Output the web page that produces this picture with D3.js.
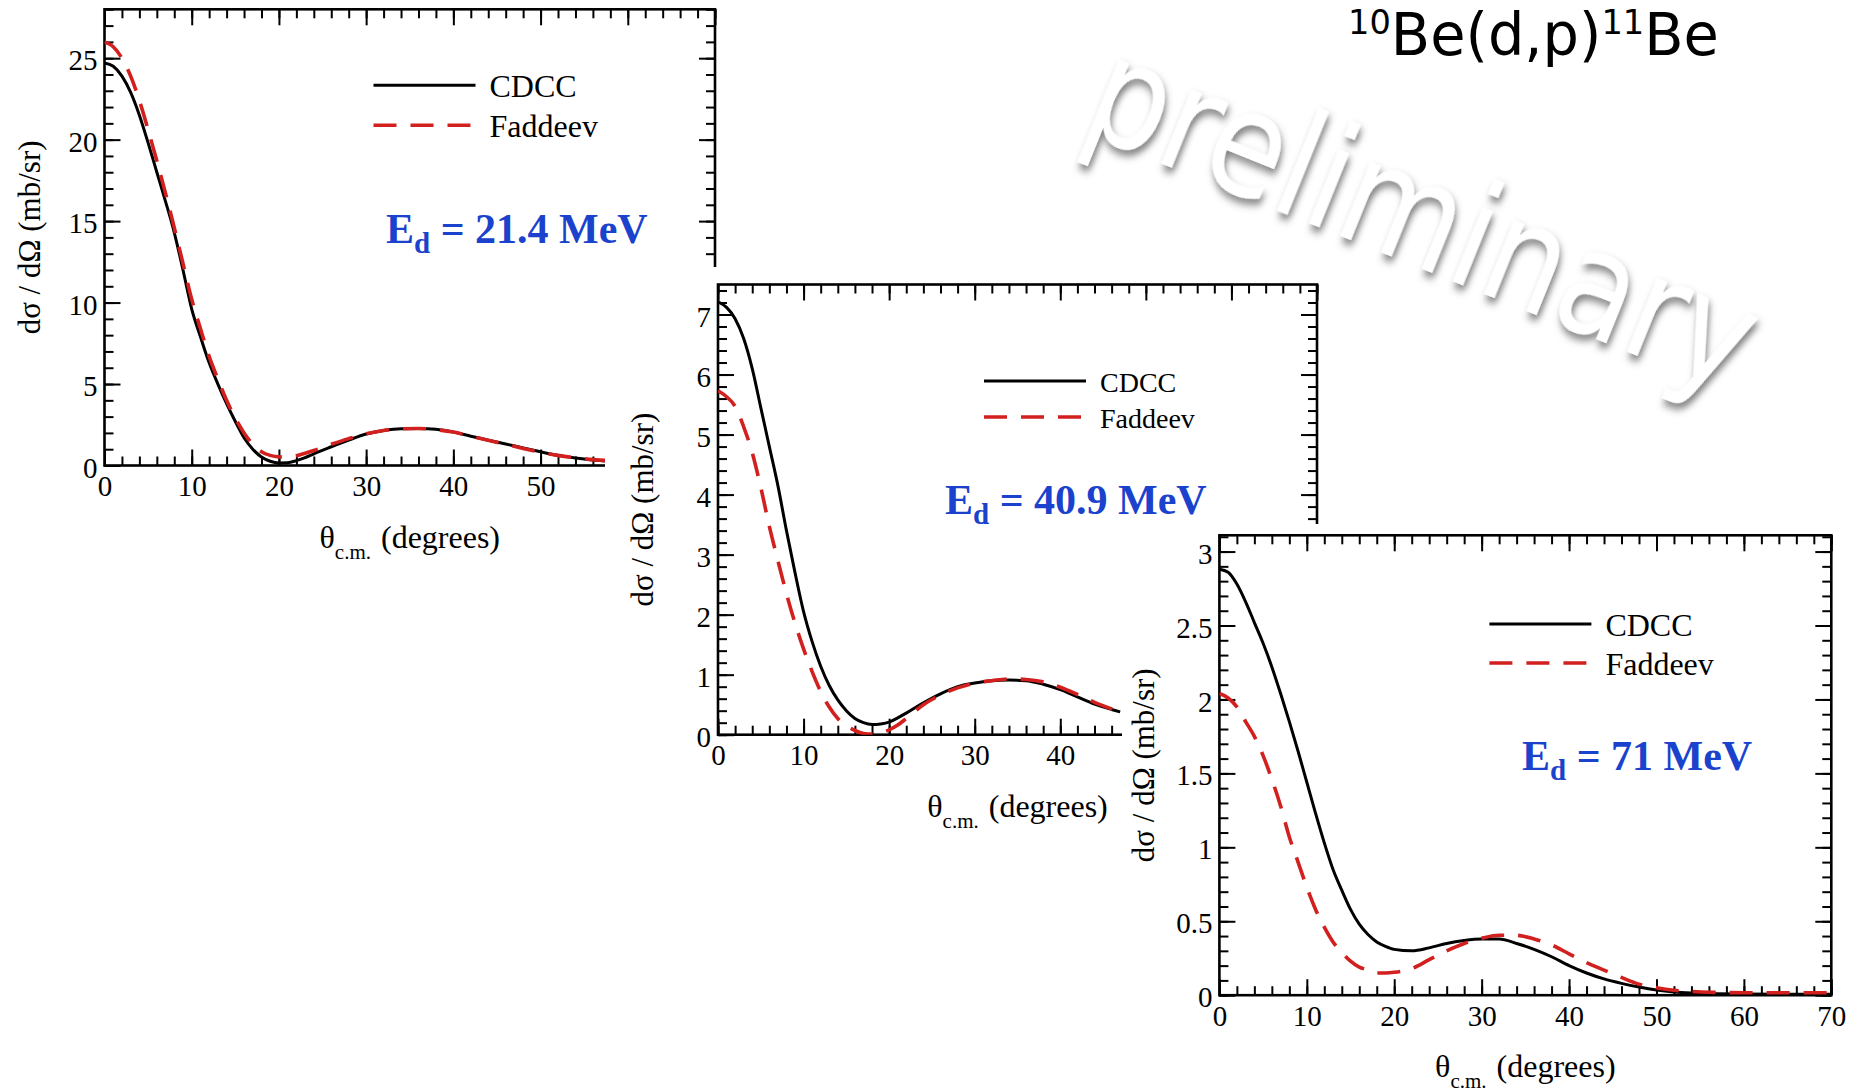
<!DOCTYPE html>
<html>
<head>
<meta charset="utf-8" />
<title>10Be(d,p)11Be</title>
<script src="https://cdn.jsdelivr.net/npm/d3@7"></script>
<style>
  body { margin: 0; background: #fff; }
  svg { display: block; }
  text { white-space: pre; }
</style>
</head>
<body>
<script>
// ---- data ----
// panel 1 : Ed = 21.4 MeV
var p1Angle = [0,1,2,3,4,5,6,7,8,9,10,11,12,13,14,15,16,17,18,19,20,21,22,23,24,26,28,30,32,34,36,38,40,42,44,46,48,50,52,54,56,58];
var p1Cdcc  = [24.7,24.5,23.9,22.9,21.5,19.8,18.0,16.2,14.3,12.0,9.6,7.9,6.3,5.0,3.8,2.7,1.7,1.0,0.52,0.26,0.16,0.17,0.3,0.48,0.72,1.15,1.56,1.93,2.15,2.26,2.27,2.22,2.05,1.8,1.55,1.32,1.08,0.84,0.62,0.46,0.34,0.26];
var p1Fadd  = [26.0,25.7,25.0,23.9,22.4,20.6,18.7,16.7,14.6,12.4,10.2,8.4,6.7,5.3,4.0,2.9,2.0,1.3,0.85,0.62,0.53,0.52,0.6,0.75,0.92,1.3,1.65,1.95,2.15,2.25,2.27,2.2,2.05,1.8,1.55,1.3,1.05,0.82,0.62,0.47,0.36,0.3];
var p1YTicks = [0,5,10,15,20,25];

// panel 2 : Ed = 40.9 MeV
var p2Angle = [0,1,2,3,4,5,6,7,8,9,10,11,12,13,14,15,16,17,18,19,20,21,22,24,26,28,30,32,34,36,38,40,42,44,46,47];
var p2Cdcc  = [7.21,7.12,6.93,6.6,6.1,5.45,4.8,4.15,3.4,2.7,2.05,1.55,1.14,0.82,0.58,0.4,0.27,0.2,0.17,0.18,0.21,0.28,0.36,0.53,0.68,0.8,0.86,0.9,0.91,0.9,0.84,0.75,0.63,0.51,0.42,0.38];
var p2Fadd  = [5.73,5.63,5.47,5.13,4.7,4.12,3.47,2.9,2.35,1.86,1.43,1.05,0.72,0.46,0.27,0.15,0.07,0.02,0.01,0.03,0.08,0.16,0.27,0.5,0.66,0.78,0.86,0.9,0.93,0.92,0.88,0.79,0.67,0.54,0.43,0.38];
var p2YTicks = [0,1,2,3,4,5,6,7];

// panel 3 : Ed = 71 MeV
var p3Angle = [0,1,2,3,4,5,6,7,8,9,10,11,12,13,14,15,16,17,18,19,20,22,24,26,28,30,32,34,36,38,40,42,44,46,48,50,52,54,56,60,65,70];
var p3Cdcc  = [2.88,2.86,2.78,2.66,2.52,2.38,2.22,2.04,1.85,1.65,1.44,1.23,1.03,0.85,0.71,0.58,0.48,0.41,0.36,0.33,0.31,0.3,0.32,0.35,0.37,0.38,0.38,0.35,0.31,0.26,0.2,0.15,0.11,0.08,0.055,0.035,0.022,0.015,0.011,0.008,0.007,0.007];
var p3Fadd  = [2.04,2.01,1.95,1.85,1.75,1.62,1.46,1.28,1.07,0.9,0.73,0.58,0.46,0.36,0.29,0.23,0.19,0.17,0.15,0.15,0.155,0.18,0.24,0.3,0.35,0.385,0.405,0.405,0.38,0.34,0.28,0.22,0.17,0.12,0.075,0.05,0.033,0.025,0.02,0.017,0.017,0.017];
var p3YTicks = [0,0.5,1,1.5,2,2.5,3];

var xTicks = [0,10,20,30,40,50,60,70];
var seriesNames = ["CDCC", "Faddeev"];

var SERIF = "'Liberation Serif', 'Times New Roman', serif";
var RED = "#d2201f", BLUE = "#1a42cc";

var svg = d3.select("body").append("svg")
    .attr("width", 1862)
    .attr("height", 1091);

svg.append("defs").append("filter")
    .attr("id", "shadow")
    .attr("x", "-20%").attr("y", "-20%").attr("width", "140%").attr("height", "140%")
  .append("feDropShadow")
    .attr("dx", 4).attr("dy", 5)
    .attr("stdDeviation", 4)
    .attr("flood-color", "#555")
    .attr("flood-opacity", 0.75);

function styleAxis(a, fs) {
  a.select(".domain").remove();
  a.selectAll(".tick line").attr("stroke", "#000").attr("stroke-width", 2);
  a.selectAll(".tick text")
    .attr("font-family", SERIF)
    .attr("font-size", fs)
    .attr("fill", "#000");
  a.attr("font-family", null).attr("font-size", null);
  // labels left empty (hidden behind the next panel) are dropped
  a.selectAll(".tick text").filter(function () { return this.textContent === ""; }).remove();
}

function drawPanel(p) {
  var g = svg.append("g");
  if (p.bg) {
    g.append("rect")
      .attr("x", p.bg[0]).attr("y", p.bg[1])
      .attr("width", p.bg[2]).attr("height", p.bg[3])
      .attr("fill", "#fff");
  }

  var x = d3.scaleLinear().domain([0, 70]).range([p.left, p.right]);
  var y = d3.scaleLinear().domain([0, p.yMax]).range([p.bottom, p.top]);
  var xMinor = d3.range(0, 70.01, 2);
  var yMinor = d3.range(0, p.yMax + 1e-6, p.yMinorStep);
  var none = function () { return ""; };

  // minor ticks, all four sides
  [[d3.axisBottom(x), "translate(0," + p.bottom + ")", xMinor],
   [d3.axisTop(x), "translate(0," + p.top + ")", xMinor],
   [d3.axisLeft(y), "translate(" + p.left + ",0)", yMinor],
   [d3.axisRight(y), "translate(" + p.right + ",0)", yMinor]].forEach(function (d) {
    var a = g.append("g").attr("transform", d[1])
      .call(d[0].tickValues(d[2]).tickSize(-9).tickFormat(none));
    styleAxis(a, p.tickFont);
  });

  // major ticks
  var bx = g.append("g").attr("transform", "translate(0," + p.bottom + ")")
    .call(d3.axisBottom(x).tickValues(xTicks).tickSize(-16).tickPadding(10)
      .tickFormat(function (v) { return v <= p.xLabelMax ? String(v) : ""; }));
  styleAxis(bx, p.tickFont);
  var tx = g.append("g").attr("transform", "translate(0," + p.top + ")")
    .call(d3.axisTop(x).tickValues(xTicks).tickSize(-16).tickFormat(none));
  styleAxis(tx, p.tickFont);
  var ly = g.append("g").attr("transform", "translate(" + p.left + ",0)")
    .call(d3.axisLeft(y).tickValues(p.yTicks).tickSize(-16).tickPadding(7).tickFormat(function (v) { return String(v); }));
  styleAxis(ly, p.tickFont);
  ly.selectAll(".tick text").attr("dy", "0.4em");
  var ry = g.append("g").attr("transform", "translate(" + p.right + ",0)")
    .call(d3.axisRight(y).tickValues(p.yTicks).tickSize(-16).tickFormat(none));
  styleAxis(ry, p.tickFont);

  g.append("rect")
    .attr("x", p.left).attr("y", p.top)
    .attr("width", p.right - p.left).attr("height", p.bottom - p.top)
    .attr("fill", "none").attr("stroke", "#000").attr("stroke-width", 2.6);

  // curves
  var clipId = "clip" + p.id;
  g.append("clipPath").attr("id", clipId).append("rect")
    .attr("x", p.left).attr("y", p.top)
    .attr("width", p.right - p.left).attr("height", p.bottom - p.top);

  var line = d3.line()
    .x(function (d) { return x(d[0]); })
    .y(function (d) { return y(d[1]); })
    .curve(d3.curveMonotoneX);

  g.append("path")
    .datum(d3.zip(p.angle, p.cdcc))
    .attr("clip-path", "url(#" + clipId + ")")
    .attr("d", line)
    .attr("fill", "none").attr("stroke", "#000").attr("stroke-width", 3);
  g.append("path")
    .datum(d3.zip(p.angle, p.fadd))
    .attr("clip-path", "url(#" + clipId + ")")
    .attr("d", line)
    .attr("fill", "none").attr("stroke", RED).attr("stroke-width", 3.6)
    .attr("stroke-dasharray", "23,14");

  // legend
  var lx = p.left + p.legend[0], ly0 = p.top + p.legend[1];
  seriesNames.forEach(function (name, i) {
    var yy = ly0 + i * p.legend[2];
    g.append("line")
      .attr("x1", lx).attr("x2", lx + 102)
      .attr("y1", yy).attr("y2", yy)
      .attr("stroke", i === 0 ? "#000" : RED)
      .attr("stroke-width", i === 0 ? 3 : 3.6)
      .attr("stroke-dasharray", i === 0 ? null : "23,14");
    g.append("text")
      .attr("x", lx + 116).attr("y", yy + p.legendFont * 0.38)
      .attr("font-family", SERIF).attr("font-size", p.legendFont)
      .text(name);
  });

  // energy label
  var e = g.append("text")
    .attr("x", p.left + p.energyPos[0]).attr("y", p.top + p.energyPos[1])
    .attr("font-family", SERIF).attr("font-weight", "bold")
    .attr("font-size", 42).attr("fill", BLUE);
  e.append("tspan").text("E");
  e.append("tspan").attr("font-size", 29).attr("dy", 10).text("d");
  e.append("tspan").attr("dy", -10).text(" = " + p.energy + " MeV");

  // axis titles
  g.append("text")
    .attr("transform", "translate(" + (p.left - 65) + "," + ((p.top + p.bottom) / 2) + ") rotate(-90)")
    .attr("text-anchor", "middle")
    .attr("font-family", SERIF).attr("font-size", 31)
    .text("d\u03c3 / d\u03a9 (mb/sr)");

  var xt = g.append("text")
    .attr("x", (p.left + p.right) / 2).attr("y", p.bottom + 82)
    .attr("text-anchor", "middle")
    .attr("font-family", SERIF).attr("font-size", 32);
  xt.append("tspan").text("\u03b8");
  xt.append("tspan").attr("font-size", 21).attr("dy", 11).text("c.m.");
  xt.append("tspan").attr("dy", -11).attr("dx", 10).text("(degrees)");
}

drawPanel({
  id: 1, left: 104.5, right: 715, top: 9.3, bottom: 465.5,
  yMax: 28, yTicks: p1YTicks, yMinorStep: 1, xLabelMax: 50,
  angle: p1Angle, cdcc: p1Cdcc, fadd: p1Fadd,
  tickFont: 29, legendFont: 32, legend: [269, 76, 40],
  energy: "21.4", energyPos: [281.5, 233.4]
});

drawPanel({
  id: 2, left: 718, right: 1317, top: 284.5, bottom: 734.7,
  yMax: 7.5, yTicks: p2YTicks, yMinorStep: 0.2, xLabelMax: 40,
  angle: p2Angle, cdcc: p2Cdcc, fadd: p2Fadd,
  tickFont: 29, legendFont: 28, legend: [266, 96.5, 36],
  energy: "40.9", energyPos: [227, 229],
  bg: [605, 267, 740, 580]
});

drawPanel({
  id: 3, left: 1219.4, right: 1831.3, top: 535.3, bottom: 995.2,
  yMax: 3.11, yTicks: p3YTicks, yMinorStep: 0.1, xLabelMax: 70,
  angle: p3Angle, cdcc: p3Cdcc, fadd: p3Fadd,
  tickFont: 29, legendFont: 32, legend: [270, 88.7, 39],
  energy: "71", energyPos: [302.6, 235],
  bg: [1122, 524, 740, 567]
});

// title
var title = svg.append("text")
    .attr("font-family", "'DejaVu Sans', Tahoma, sans-serif")
    .attr("font-size", 58).attr("fill", "#000");
title.append("tspan").attr("font-size", 34).attr("dy", -21).text("10");
title.append("tspan").attr("dy", 21).text("Be(d,p)");
title.append("tspan").attr("font-size", 34).attr("dy", -21).text("11");
title.append("tspan").attr("dy", 21).text("Be");
var tw = title.node().getComputedTextLength();
title.attr("transform", "translate(1348,55) scale(" + (371 / tw) + ",1)");

// watermark
var mark = svg.append("text")
    .attr("text-anchor", "middle")
    .attr("font-family", "'DejaVu Sans', Tahoma, sans-serif")
    .attr("font-size", 146)
    .attr("fill", "#fff")
    .attr("filter", "url(#shadow)")
    .text("preliminary");
var mw = mark.node().getComputedTextLength();
mark.attr("transform", "translate(1405,262) rotate(22) scale(" + (705 / mw) + ",1)");
</script>
</body>
</html>
